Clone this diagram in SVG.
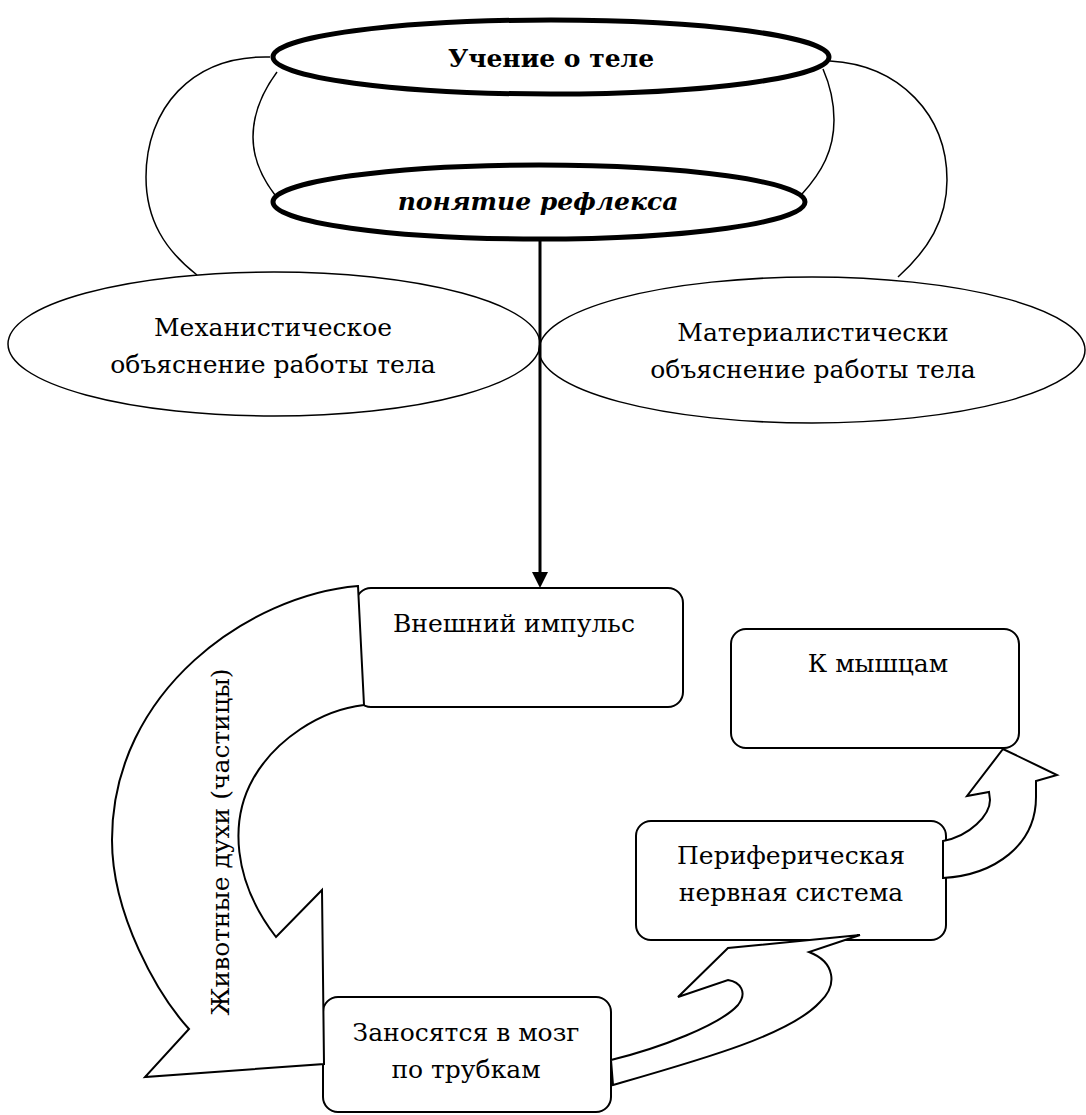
<svg xmlns="http://www.w3.org/2000/svg" width="1086" height="1115" viewBox="0 0 1086 1115">
<style>
text{font-family:'DejaVu Serif',serif;font-size:25px;fill:#000;text-anchor:middle}
.thick{fill:#fff;stroke:#000;stroke-width:5}
.thin{fill:#fff;stroke:#000;stroke-width:1.5}
.arc{fill:none;stroke:#000;stroke-width:1.5}
.box{fill:#fff;stroke:#000;stroke-width:2}
.shape{fill:#fff;stroke:#000;stroke-width:2;stroke-linejoin:miter}
</style>
<rect width="1086" height="1115" fill="#fff"/>
<g id="arcs">
<path class="arc" d="M270,57 C190,55 146,110 146,177 C146,220 165,250 197,275"/>
<path class="arc" d="M277,72 C260,95 253,115 253,137 C253,160 262,178 275,195"/>
<path class="arc" d="M830,61 C900,65 947,115 947,180 C947,220 928,250 898,277"/>
<path class="arc" d="M823,69 C830,85 834,100 834,120 C834,150 822,172 802,194"/>
</g>
<g id="mech">
<ellipse class="thin" cx="274" cy="344" rx="266" ry="72"/>
<text x="273" y="336">Механистическое</text>
<text x="273" y="373">объяснение работы тела</text>
</g>
<g id="mater">
<ellipse class="thin" cx="812" cy="350" rx="273" ry="73"/>
<text x="813" y="341">Материалистически</text>
<text x="813" y="378">объяснение работы тела</text>
</g>
<g id="uchenie">
<ellipse class="thick" cx="551" cy="57" rx="278" ry="37"/>
<text x="551" y="67" font-weight="bold" font-size="23.5">Учение о теле</text>
</g>
<g id="refleks">
<ellipse class="thick" cx="539" cy="202" rx="266" ry="37"/>
<text x="538" y="210" font-weight="bold" font-style="italic" font-size="23.5">понятие рефлекса</text>
</g>
<g id="connectors">
<line x1="540" y1="241" x2="540" y2="574" stroke="#000" stroke-width="3"/>
<polygon points="532,572 548,572 540,588" fill="#000"/>
</g>
<g id="vneshniy">
<rect class="box" x="356" y="588" width="327" height="119" rx="15"/>
<text x="514" y="632">Внешний импульс</text>
</g>
<g id="mysh">
<rect class="box" x="731" y="629" width="288" height="119" rx="15"/>
<text x="878" y="672">К мышцам</text>
</g>
<g id="perif">
<rect class="box" x="636" y="821" width="310" height="119" rx="15"/>
<text x="791" y="864">Периферическая</text>
<text x="791" y="901">нервная система</text>
</g>
<g id="zanos">
<rect class="box" x="323" y="997" width="288" height="115" rx="15"/>
<text x="466" y="1041">Заносятся в мозг</text>
<text x="466" y="1078">по трубкам</text>
</g>
<g id="arrow-left">
<path class="shape" d="M358,586 L364,705 C320,710 275,740 253,779 C230,820 232,880 276,937 L322,890 L324,1064 L145,1077 L189,1029 C158,995 112,915 112,840 C112,690 250,595 358,586 Z"/>
<text transform="translate(229,842) rotate(-90)" font-size="24">Животные духи (частицы)</text>
</g>
<g id="arrow-mid">
<path class="shape" d="M611,1060 C660,1048 720,1025 738,1005 C748,992 740,982 728,980 L678,997 L728,948 L860,935 L809,952 C835,962 838,985 820,1002 C790,1035 700,1060 613,1085 Z"/>
</g>
<g id="arrow-right">
<path class="shape" d="M943,841 C970,836 990,815 990,800 L989,792 L967,796 L1003,749 L1057,775 L1036,781 L1036,797 C1036,845 995,875 943,878 Z"/>
</g>
</svg>
